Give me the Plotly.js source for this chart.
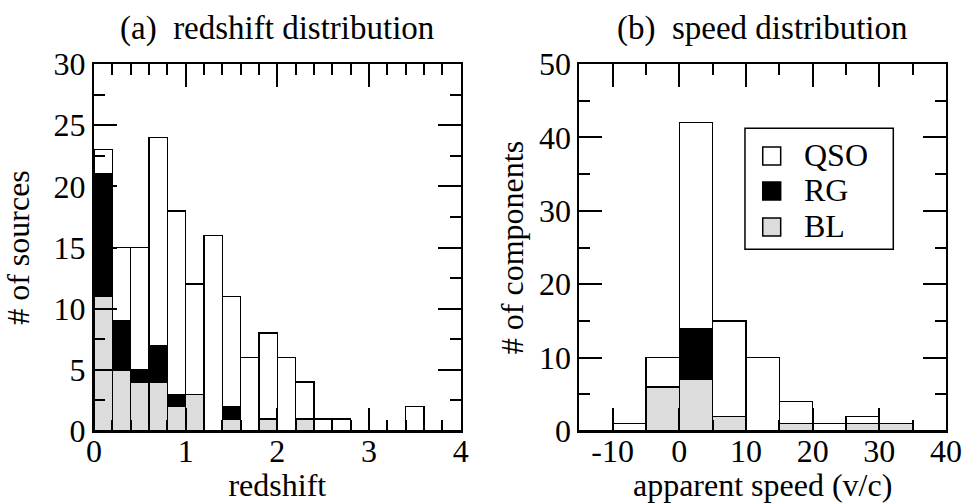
<!DOCTYPE html>
<html>
<head>
<meta charset="utf-8">
<script src="https://cdn.plot.ly/plotly-3.0.1.min.js"></script>
<style>html,body{margin:0;padding:0;background:#fff}#chart{width:965px;height:503px}</style>
</head>
<body>
<div id="chart"></div>
<script>
// ---- data: (a) redshift distribution, bins of 0.2 ----
const zBins = [0.1,0.3,0.5,0.7,0.9,1.1,1.3,1.5,1.7,1.9,2.1,2.3,2.5,2.7,2.9,3.1,3.3,3.5,3.7,3.9];
const zQSO  = [2,6,10,17,15,9,16,9,6,7,6,3,1,1,0,0,0,2,0,0];
const zRG   = [10,4,1,3,1,0,0,1,0,0,0,0,0,0,0,0,0,0,0,0];
const zBL   = [11,5,4,4,2,3,0,1,0,1,0,1,0,0,0,0,0,0,0,0];

// ---- data: (b) speed distribution, bins of 5 ----
const vBins = [-12.5,-7.5,-2.5,2.5,7.5,12.5,17.5,22.5,27.5,32.5,37.5];
const vQSO  = [0,1,4,28,13,10,3,1,1,0,0];
const vRG   = [0,0,0,7,0,0,0,0,0,0,0];
const vBL   = [0,0,6,7,2,0,1,0,1,1,0];

const vTickVals = [-10,0,10,20,30,40];
const vTickText = ["-10","0","10","20","30","40"];

const legendNames  = ["QSO","RG","BL"];

const FONT = "'Liberation Serif', 'Times New Roman', serif";
const GRAY = "#dcdcdc";
const legendColors = ["#fff","#000",GRAY];
const outline = {color:"#000", width:1.5};

function bar(x, y, name, color, xa, ya, w){
  return {type:"bar", x:x, y:y, name:name, width:w,
    marker:{color:color, line:outline},
    xaxis:xa, yaxis:ya, showlegend:false, hoverinfo:"x+y+name"};
}

const traces = [
  bar(zBins, zBL,  "BL",  GRAY,   "x",  "y",  0.2),
  bar(zBins, zRG,  "RG",  "#000", "x",  "y",  0.2),
  bar(zBins, zQSO, "QSO", "#fff", "x",  "y",  0.2),
  bar(vBins, vBL,  "BL",  GRAY,   "x2", "y2", 5),
  bar(vBins, vRG,  "RG",  "#000", "x2", "y2", 5),
  bar(vBins, vQSO, "QSO", "#fff", "x2", "y2", 5)
];

const axBase = {
  showline:true, linecolor:"#000", linewidth:2, mirror:"allticks",
  ticks:"inside", ticklen:23, tickwidth:2, tickcolor:"#000",
  showgrid:false, zeroline:false, fixedrange:true,
  tickfont:{family:FONT, size:32, color:"#000"}
};
function ax(extra){ return Object.assign({}, axBase, extra); }
const minorT = {ticks:"inside", ticklen:11, tickwidth:2, tickcolor:"#000"};

// hand-drawn legend box (inside panel b)
const shapes = [
  {type:"rect", xref:"paper", yref:"paper", x0:0.7720, x1:0.9257, y0:0.5044, y1:0.7449,
   line:{color:"#000", width:1.5}, fillcolor:"#fff", layer:"above"}
];
const annotations = [
  {text:"(a)\u00a0 redshift distribution", xref:"paper", yref:"paper", x:0.2874, y:0.944,
   xanchor:"center", yanchor:"middle", showarrow:false, font:{family:FONT, size:33, color:"#000"}},
  {text:"(b)\u00a0 speed distribution", xref:"paper", yref:"paper", x:0.7903, y:0.944,
   xanchor:"center", yanchor:"middle", showarrow:false, font:{family:FONT, size:33, color:"#000"}}
];
const legendY = [0.6899, 0.6203, 0.5487];
const half = 0.0179;
legendNames.forEach((n,i)=>{
  shapes.push({type:"rect", xref:"paper", yref:"paper", x0:0.7904, x1:0.8090,
    y0:legendY[i]-half, y1:legendY[i]+half, line:{color:"#000", width:1.5},
    fillcolor:legendColors[i], layer:"above"});
  annotations.push({text:n, xref:"paper", yref:"paper", x:0.8312, y:legendY[i]+0.002,
    xanchor:"left", yanchor:"middle", showarrow:false, font:{family:FONT, size:32, color:"#000"}});
});

const layout = {
  width:965, height:503,
  margin:{l:0, r:0, t:0, b:0},
  paper_bgcolor:"#fff", plot_bgcolor:"#fff",
  barmode:"stack", bargap:0, showlegend:false,
  font:{family:FONT, size:32, color:"#000"},
  xaxis: ax({domain:[0.0974,0.4774], range:[0,4], dtick:1, tick0:0, ticklabelstandoff:-9,
    minor:Object.assign({dtick:0.2}, minorT),
    title:{text:"redshift", font:{family:FONT, size:32}, standoff:2}, anchor:"y"}),
  yaxis: ax({domain:[0.1431,0.8728], range:[0,30], dtick:5, tick0:0,
    minor:Object.assign({dtick:2.5}, minorT),
    title:{text:"# of sources", font:{family:FONT, size:32}, standoff:14}, anchor:"x"}),
  xaxis2: ax({domain:[0.6003,0.9803], range:[-15,40], tickvals:vTickVals, ticktext:vTickText, ticklabelstandoff:-9,
    minor:Object.assign({dtick:5, tick0:0}, minorT),
    title:{text:"apparent speed (v/c)", font:{family:FONT, size:32}, standoff:2}, anchor:"y2"}),
  yaxis2: ax({domain:[0.1431,0.8728], range:[0,50], dtick:10, tick0:0,
    minor:Object.assign({dtick:5}, minorT),
    title:{text:"# of components", font:{family:FONT, size:32}, standoff:6}, anchor:"x2"}),
  shapes:shapes,
  annotations:annotations
};

Plotly.newPlot("chart", traces, layout, {displayModeBar:false, staticPlot:true});
</script>
</body>
</html>
